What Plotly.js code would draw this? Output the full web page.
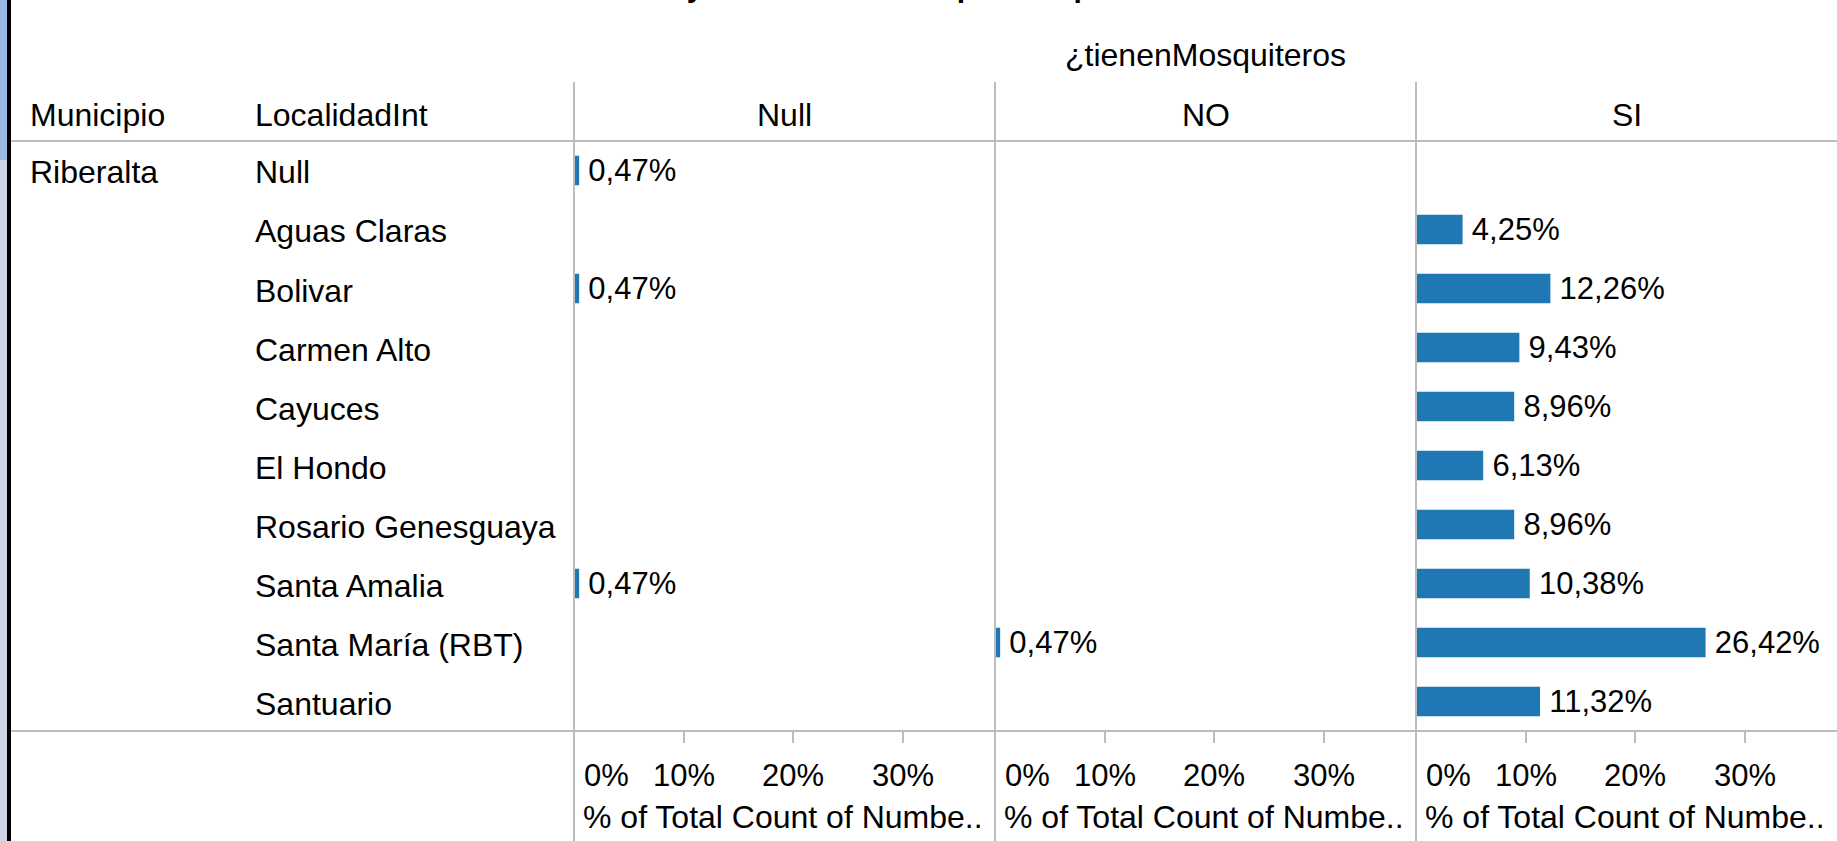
<!DOCTYPE html>
<html>
<head>
<meta charset="utf-8">
<script src="https://cdn.plot.ly/plotly-3.0.1.min.js"></script>
<style>
html,body{margin:0;padding:0;background:#fff;}
#chart{width:1837px;height:841px;}
</style>
</head>
<body>
<div id="chart"></div>
<script>
// ---- data ----
const municipio = 'Riberalta';
const localidades = ['Null','Aguas Claras','Bolivar','Carmen Alto','Cayuces','El Hondo','Rosario Genesguaya','Santa Amalia','Santa María (RBT)','Santuario'];
const mosqCategorias = ['Null','NO','SI'];
const valoresNull = [0.47, null, 0.47, null, null, null, null, 0.47, null, null];
const valoresNO   = [null, null, null, null, null, null, null, null, 0.47, null];
const valoresSI   = [null, 4.25, 12.26, 9.43, 8.96, 6.13, 8.96, 10.38, 26.42, 11.32];
const tickValores = [0, 10, 20, 30];
const tituloPanel = '¿tienenMosquiteros';
const tituloEjeX = '% of Total Count of Numbe..';
const encabezados = ['Municipio', 'LocalidadInt'];
const tituloGrafico = 'Localidades y tenencia de mosquiteros por vivienda';

// ---- layout helpers (pixel -> paper) ----
const W = 1837, H = 841;
const px = x => x / W;
const py = y => 1 - y / H;
const FONT = 'Liberation Sans, Arial, sans-serif';
const FS = 32;      // headers / row labels / axis title
const FS_TICK = 31; // tick labels
const FS_VAL = 31;  // bar labels
const GRAY = '#bdbdbd';
const BAR = '#1f77b4';

const colEdges = [574, 995, 1416, 1837];
const axisNames = ['x', 'x2', 'x3'];
const series = [valoresNull, valoresNO, valoresSI];

const data = series.map((vals, i) => ({
  type: 'bar',
  orientation: 'h',
  name: mosqCategorias[i],
  y: localidades,
  x: vals,
  xaxis: axisNames[i],
  yaxis: 'y',
  marker: {color: BAR, line: {width: 0}},
  texttemplate: '\u2009%{x:.2f}%',
  textposition: 'outside',
  constraintext: 'none',
  cliponaxis: false,
  textfont: {family: FONT, size: FS_VAL, color: '#000'},
  hoverinfo: 'skip'
}));

const xRangeMax = 38.41;
const layout = {
  width: W, height: H,
  margin: {l: 0, r: 0, t: 0, b: 0, pad: 0},
  paper_bgcolor: '#fff', plot_bgcolor: 'rgba(0,0,0,0)',
  showlegend: false,
  hovermode: false,
  separators: ',.',
  bargap: 0.5,
  font: {family: FONT, size: FS, color: '#000'},
  yaxis: {
    type: 'category', categoryorder: 'array', categoryarray: localidades,
    range: [localidades.length - 0.5, -0.5], autorange: false,
    domain: [py(731), py(141)],
    showticklabels: false, showgrid: false, zeroline: false, showline: false, ticks: ''
  },
  shapes: [],
  annotations: []
};

axisNames.forEach((ax, i) => {
  const key = i === 0 ? 'xaxis' : 'xaxis' + (i + 1);
  layout[key] = {
    domain: [px(colEdges[i]), px(colEdges[i + 1])],
    range: [0, xRangeMax], autorange: false,
    anchor: 'y',
    tickvals: tickValores,
    ticks: 'outside', ticklen: 11, tickwidth: 2, tickcolor: GRAY,
    showticklabels: false, showgrid: false, zeroline: false, showline: false
  };
  // tick labels
  tickValores.forEach(v => {
    layout.annotations.push({
      xref: ax, yref: 'paper', x: v, y: py(775),
      xanchor: v === 0 ? 'left' : 'center', yanchor: 'middle',
      xshift: v === 0 ? 8 : 0,
      text: v + '%', showarrow: false,
      font: {family: FONT, size: FS_TICK, color: '#000'}
    });
  });
  // axis title
  layout.annotations.push({
    xref: ax + ' domain', yref: 'paper', x: 0, y: py(817),
    xanchor: 'left', yanchor: 'middle', xshift: 7,
    text: tituloEjeX, showarrow: false,
    font: {family: FONT, size: FS, color: '#000'}
  });
  // column header
  layout.annotations.push({
    xref: ax + ' domain', yref: 'paper', x: 0.5, y: py(115),
    xanchor: 'center', yanchor: 'middle',
    text: mosqCategorias[i], showarrow: false,
    font: {family: FONT, size: FS, color: '#000'}
  });
  // vertical separator
  layout.shapes.push({
    type: 'line', xref: 'paper', yref: 'paper',
    x0: px(colEdges[i]), x1: px(colEdges[i]), y0: py(82), y1: 0,
    line: {color: GRAY, width: 2}
  });
});

// horizontal lines
[141, 731].forEach(yy => layout.shapes.push({
  type: 'line', xref: 'paper', yref: 'paper',
  x0: px(11), x1: 1, y0: py(yy), y1: py(yy),
  line: {color: GRAY, width: 2}
}));

// left window border
layout.shapes.push({
  type: 'rect', xref: 'paper', yref: 'paper', x0: 0, x1: px(7), y0: 0, y1: 1,
  fillcolor: '#cdd6e4', line: {width: 0}, layer: 'above'
});
layout.shapes.push({
  type: 'rect', xref: 'paper', yref: 'paper', x0: 0, x1: px(7), y0: py(160), y1: 1,
  fillcolor: '#9ab8e4', line: {width: 0}, layer: 'above'
});
layout.shapes.push({
  type: 'rect', xref: 'paper', yref: 'paper', x0: px(7), x1: px(11), y0: 0, y1: 1,
  fillcolor: '#000', line: {width: 0}, layer: 'above'
});

// header texts
layout.annotations.push({
  xref: 'paper', yref: 'paper', x: px(29), y: py(115), xanchor: 'left', yanchor: 'middle',
  xshift: -1, text: encabezados[0], showarrow: false, font: {family: FONT, size: FS, color: '#000'}
});
layout.annotations.push({
  xref: 'paper', yref: 'paper', x: px(254), y: py(115), xanchor: 'left', yanchor: 'middle',
  xshift: -1, text: encabezados[1], showarrow: false, font: {family: FONT, size: FS, color: '#000'}
});
layout.annotations.push({
  xref: 'paper', yref: 'paper', x: (px(colEdges[0]) + 1) / 2, y: py(55), xanchor: 'center', yanchor: 'middle',
  text: tituloPanel, showarrow: false, font: {family: FONT, size: FS, color: '#000'}
});

// row labels
layout.annotations.push({
  xref: 'paper', yref: 'y', x: px(29), y: localidades[0], xanchor: 'left', yanchor: 'middle',
  xshift: -1, yshift: -2, text: municipio, showarrow: false, font: {family: FONT, size: FS, color: '#000'}
});
localidades.forEach(loc => layout.annotations.push({
  xref: 'paper', yref: 'y', x: px(254), y: loc, xanchor: 'left', yanchor: 'middle',
  xshift: -1, yshift: -2, text: loc, showarrow: false, font: {family: FONT, size: FS, color: '#000'}
}));

// chart title, cut off at the top edge as in the source (only descenders visible)
layout.annotations.push({
  xref: 'paper', yref: 'paper', x: px(878), y: py(5), xanchor: 'center', yanchor: 'bottom',
  text: '<b>' + tituloGrafico + '</b>', showarrow: false,
  font: {family: FONT, size: 30, color: '#000'}
});

Plotly.newPlot('chart', data, layout, {displayModeBar: false, staticPlot: true});
</script>
</body>
</html>
